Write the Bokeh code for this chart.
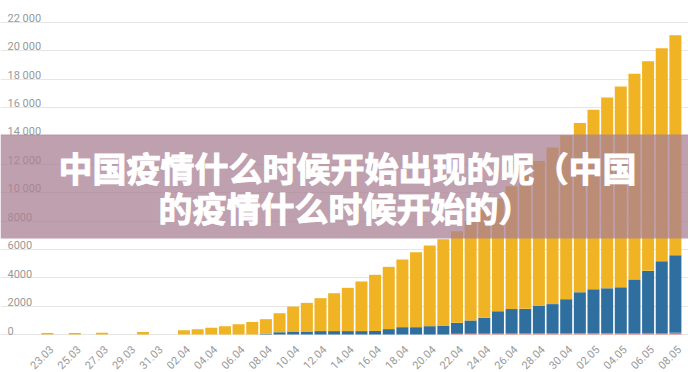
import numpy as np
from bokeh.plotting import figure
from bokeh.models import Range1d, BoxAnnotation, Label, FixedTicker, Grid
from bokeh.core.properties import value
from bokeh.embed import file_html
from bokeh.resources import INLINE

# ---------------- data ----------------
dates = ["23.03", "24.03", "25.03", "26.03", "27.03", "28.03", "29.03", "30.03",
         "31.03", "01.04", "02.04", "03.04", "04.04", "05.04", "06.04", "07.04",
         "08.04", "09.04", "10.04", "11.04", "12.04", "13.04", "14.04", "15.04",
         "16.04", "17.04", "18.04", "19.04", "20.04", "21.04", "22.04", "23.04",
         "24.04", "25.04", "26.04", "27.04", "28.04", "29.04", "30.04", "01.05",
         "02.05", "03.05", "04.05", "05.05", "06.05", "07.05", "08.05"]

# total height of each bar
cases = [100, 0, 110, 0, 120, 0, 0, 170,
         0, 0, 300, 370, 470, 590, 730, 890,
         1080, 1500, 1970, 2230, 2560, 2910, 3290, 3740,
         4210, 4770, 5290, 5800, 6270, 6720, 7280, 7990,
         8770, 9590, 10460, 11290, 12240, 13180, 14050, 14920,
         15840, 16710, 17480, 18380, 19270, 20180, 21100]

recovered = [0, 0, 0, 0, 0, 0, 0, 0,
             0, 0, 0, 0, 0, 0, 0, 0,
             60, 160, 210, 210, 240, 240, 240, 240,
             250, 380, 520, 520, 590, 630, 770, 935,
             1120, 1580, 1730, 1740, 1970, 2070, 2415, 2900,
             3105, 3170, 3230, 3780, 4380, 5060, 5470]

deaths = [0, 0, 0, 0, 0, 0, 0, 0,
          0, 0, 0, 0, 0, 0, 0, 0,
          0, 0, 0, 0, 0, 0, 0, 0,
          0, 0, 0, 0, 0, 0, 50, 55,
          58, 60, 63, 67, 70, 72, 75, 79,
          84, 89, 99, 103, 108, 112, 116]

y_ticks = [0, 2000, 4000, 6000, 8000, 10000, 12000, 14000, 16000, 18000, 20000, 22000]
y_tick_labels = ["0", "2000", "4000", "6000", "8000", "10 000", "12 000",
                 "14 000", "16 000", "18 000", "20 000", "22 000"]

title_lines = ["中国疫情什么时候开始出现的呢（中国", "的疫情什么时候开始的）"]

# ---------------- layout (pixels of the 688x372 page) ----------------
W, H = 688, 372
BAR0_PX, STEP_PX = 47.0, 13.65     # first bar centre and bar pitch
PX_X = STEP_PX
X0 = -BAR0_PX / PX_X
X1 = (W - BAR0_PX) / PX_X
ZERO_PX, TOP_PX = 334.0, 22.0       # page rows of 0 and 22 000
PX_Y = (ZERO_PX - TOP_PX) / 22000.0
Y1 = 22000 + TOP_PX / PX_Y
Y0 = -(H - ZERO_PX) / PX_Y


def data_x(page_px):
    return X0 + page_px / PX_X


def data_y(page_px):
    return Y1 - page_px / PX_Y


YELLOW = "#f0b323"
BLUE = "#2e6fa0"
RED = "#e57373"
GRID = "#e6e6e6"
LABEL = "#999999"

p = figure(width=W, height=H, x_range=Range1d(X0, X1), y_range=Range1d(Y0, Y1),
           output_backend="svg", toolbar_location=None, min_border=0,
           x_axis_location=None, y_axis_location=None,
           background_fill_color="white", border_fill_color="white",
           outline_line_color=None)

# drop any default grids, add our own horizontal grid
p.center = [r for r in p.center if not isinstance(r, Grid)]
p.add_layout(Grid(dimension=1, ticker=FixedTicker(ticks=y_ticks),
                  grid_line_color=GRID, grid_line_width=1))

x = np.arange(len(dates))
d = np.array(deaths, dtype=float)
r = np.array(recovered, dtype=float)
c = np.array(cases, dtype=float)

BW = 0.88
p.vbar(x=x, bottom=0, top=d, width=BW, fill_color=RED, line_color=None)
p.vbar(x=x, bottom=d, top=d + r, width=BW, fill_color=BLUE, line_color=None)
p.vbar(x=x, bottom=d + r, top=c, width=BW, fill_color=YELLOW, line_color=None)

# y tick labels (inside plot, above gridlines)
p.text(x=[X0] * len(y_ticks), y=y_ticks, text=y_tick_labels,
       text_font=value("Roboto"), text_font_size="11px", text_color=LABEL,
       text_align="left", text_baseline="alphabetic", x_offset=7, y_offset=-4)

# x tick labels, every second date, rotated
xi = x[::2]
p.text(x=xi + 4 / PX_X, y=[-13 / PX_Y] * len(xi), text=dates[::2],
       angle=np.pi / 4, text_font=value("Roboto"), text_font_size="11px",
       text_color=LABEL, text_align="right", text_baseline="middle")

# banner overlay
p.add_layout(BoxAnnotation(bottom=data_y(238), top=data_y(134),
                           left=data_x(0), right=data_x(W),
                           fill_color="#aa8093", fill_alpha=0.75, line_color=None))

for txt, py, px in [(title_lines[0], 167, 347), (title_lines[1], 207, 345)]:
    p.add_layout(Label(x=data_x(px), y=data_y(py), text=txt,
                       text_align="center", text_baseline="middle",
                       text_font="Noto Sans CJK SC", text_font_style="bold",
                       text_font_size="34px", text_color="white",
                       text_outline_color="white"))

open("out.html", "w").write(file_html(p, INLINE))
